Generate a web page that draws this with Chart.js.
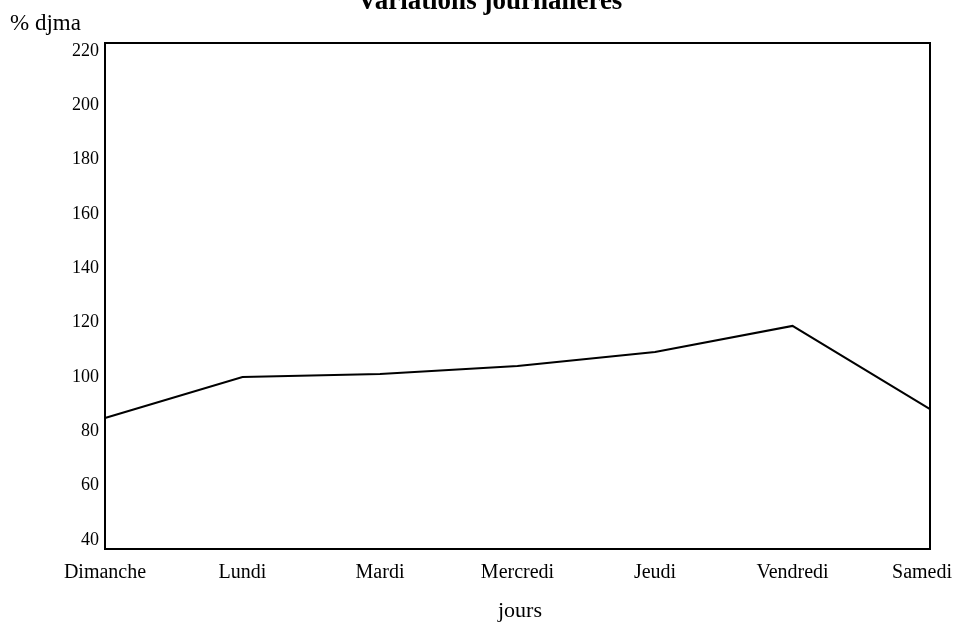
<!DOCTYPE html>
<html>
<head>
<meta charset="utf-8">
<script src="https://cdn.jsdelivr.net/npm/chart.js@4/dist/chart.umd.min.js"></script>
<style>
  html, body { margin: 0; padding: 0; background: #fff; }
  #wrap { width: 955px; height: 629px; }
</style>
</head>
<body>
<div id="wrap"><canvas id="dailyChart" width="955" height="629"></canvas></div>
<script>
  const days = ["Dimanche", "Lundi", "Mardi", "Mercredi", "Jeudi", "Vendredi", "Samedi"];
  const pctDjma = [84.9, 100.0, 101.1, 104.0, 109.2, 118.8, 88.2];
  const yTicks = [40, 60, 80, 100, 120, 140, 160, 180, 200, 220];
  // the frame goes a little past the first and last tick
  const yMin = 36.7;
  const yMax = 222.9;

  const serif = "'Liberation Serif', 'DejaVu Serif', serif";

  // frame, day names and the free texts
  const framePlugin = {
    id: "frame",
    afterDraw(chart) {
      const { ctx, chartArea: a } = chart;
      const xs = chart.scales.x;
      ctx.save();
      ctx.strokeStyle = "#000";
      ctx.lineWidth = 2;
      ctx.strokeRect(a.left, a.top, a.right - a.left, a.bottom - a.top);

      ctx.fillStyle = "#000";
      ctx.textBaseline = "middle";
      ctx.textAlign = "center";
      ctx.font = "20px " + serif;
      days.forEach((d, i) => {
        const w = ctx.measureText(d).width;
        let x = xs.getPixelForValue(i);
        x = Math.min(x, chart.width - 3 - w / 2);
        ctx.fillText(d, x, 573);
      });

      ctx.textBaseline = "alphabetic";
      ctx.font = "bold 27px " + serif;
      ctx.fillText("Variations journalières", 490, 9);

      ctx.textAlign = "left";
      ctx.font = "23px " + serif;
      ctx.fillText("% djma", 10, 30);

      ctx.textAlign = "center";
      ctx.font = "22px " + serif;
      ctx.fillText("jours", 520, 617);
      ctx.restore();
    },
  };

  new Chart(document.getElementById("dailyChart").getContext("2d"), {
    type: "line",
    data: {
      labels: days,
      datasets: [
        {
          label: "% djma",
          data: pctDjma,
          borderColor: "#000",
          borderWidth: 2,
          pointRadius: 0,
          tension: 0,
          fill: false,
        },
      ],
    },
    options: {
      responsive: false,
      animation: false,
      layout: { padding: { top: 43, right: 25, left: 0, bottom: 0 } },
      plugins: {
        legend: { display: false },
        title: { display: false },
        tooltip: { enabled: false },
      },
      scales: {
        x: {
          offset: false,
          grid: { display: false, drawTicks: false },
          border: { display: false },
          ticks: { display: false },
          afterFit(scale) {
            scale.height = 80;
            scale.paddingLeft = 0;
            scale.paddingRight = 0;
          },
        },
        y: {
          min: yMin,
          max: yMax,
          grid: { display: false, drawTicks: false },
          border: { display: false },
          ticks: {
            color: "#000",
            font: { family: serif, size: 18 },
            padding: 6,
          },
          afterBuildTicks(scale) {
            scale.ticks = yTicks.map((v) => ({ value: v }));
          },
          afterFit(scale) {
            scale.width = 105;
          },
        },
      },
    },
    plugins: [framePlugin],
  });
</script>
</body>
</html>
